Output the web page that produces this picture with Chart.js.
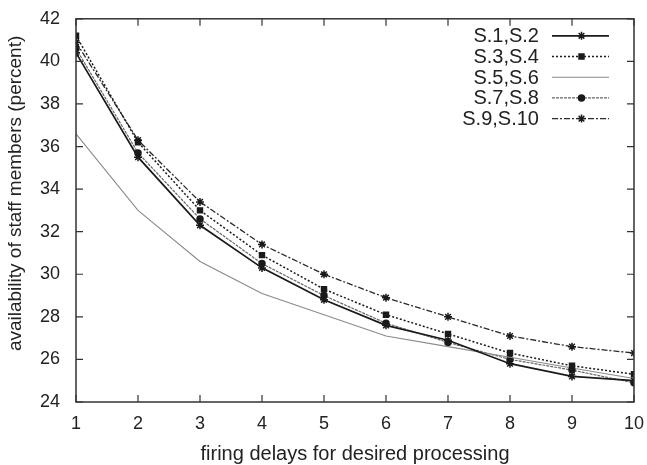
<!DOCTYPE html>
<html>
<head>
<meta charset="utf-8">
<script src="https://cdn.jsdelivr.net/npm/chart.js@4.4.1/dist/chart.umd.min.js"></script>
<style>
  html, body { margin: 0; padding: 0; background: #fff; }
  #wrap { width: 647px; height: 465px; }
</style>
</head>
<body>
<div id="wrap"><canvas id="myChart" width="647" height="465"></canvas></div>
<script>
const delays = [1, 2, 3, 4, 5, 6, 7, 8, 9, 10];
const seriesNames = ['S.1,S.2', 'S.3,S.4', 'S.5,S.6', 'S.7,S.8', 'S.9,S.10'];
const s12 = [40.4, 35.5, 32.3, 30.3, 28.8, 27.6, 26.9, 25.8, 25.2, 25.0];
const s34 = [41.2, 36.2, 33.0, 30.9, 29.3, 28.1, 27.2, 26.3, 25.7, 25.3];
const s56 = [36.6, 33.0, 30.6, 29.1, 28.1, 27.1, 26.6, 26.1, 25.6, 25.1];
const s78 = [40.6, 35.7, 32.6, 30.5, 29.0, 27.7, 26.8, 26.0, 25.5, 24.9];
const s910 = [40.9, 36.3, 33.4, 31.4, 30.0, 28.9, 28.0, 27.1, 26.6, 26.3];
const yTicks = [24, 26, 28, 30, 32, 34, 36, 38, 40, 42];
const yTitle = 'availability of staff members (percent)';

const toXY = (vals) => vals.map((y, i) => ({ x: delays[i], y }));

const FONT = '"Liberation Sans", Arial, Helvetica, sans-serif';

const styles = [
  { color: '#1a1a1a', width: 1.7, dash: [], point: 'star', radius: 4 },
  { color: '#1a1a1a', width: 1.5, dash: [2, 2], point: 'rect', radius: 3.5 },
  { color: '#8a8a8a', width: 1.1, dash: [], point: false, radius: 0 },
  { color: '#666', width: 1.2, dash: [3, 1], point: 'circle', radius: 3 },
  { color: '#2a2a2a', width: 1.3, dash: [6, 2, 2, 2], point: 'star', radius: 4 },
];

const allSeries = [s12, s34, s56, s78, s910];

const datasets = allSeries.map((vals, i) => ({
  label: seriesNames[i],
  data: toXY(vals),
  borderColor: styles[i].color,
  backgroundColor: '#1a1a1a',
  borderWidth: styles[i].width,
  borderDash: styles[i].dash,
  pointStyle: styles[i].point,
  pointRadius: styles[i].radius,
  pointBorderWidth: 1.5,
  pointBorderColor: '#1a1a1a',
  tension: 0,
  fill: false,
}));

// gnuplot style frame with inward ticks on all four sides
const framePlugin = {
  id: 'frame',
  afterDraw(chart) {
    const { ctx, chartArea: a, scales } = chart;
    ctx.save();
    ctx.strokeStyle = '#333';
    ctx.lineWidth = 1.5;
    ctx.setLineDash([]);
    ctx.strokeRect(a.left, a.top, a.right - a.left, a.bottom - a.top);
    ctx.lineWidth = 1.2;
    const t = 7;
    ctx.beginPath();
    delays.forEach((v) => {
      const px = scales.x.getPixelForValue(v);
      ctx.moveTo(px, a.bottom); ctx.lineTo(px, a.bottom - t);
      ctx.moveTo(px, a.top); ctx.lineTo(px, a.top + t);
    });
    yTicks.forEach((v) => {
      const py = scales.y.getPixelForValue(v);
      ctx.moveTo(a.left, py); ctx.lineTo(a.left + t, py);
      ctx.moveTo(a.right, py); ctx.lineTo(a.right - t, py);
    });
    ctx.stroke();

    // rotated y axis title, sitting a little above the plot's middle
    ctx.translate(16, (a.top + a.bottom) / 2 - 17);
    ctx.rotate(-Math.PI / 2);
    ctx.font = '19px ' + FONT;
    ctx.fillStyle = '#222';
    ctx.textAlign = 'center';
    ctx.textBaseline = 'middle';
    ctx.fillText(yTitle, 0, 0);
    ctx.restore();
  },
};

// key in the upper right corner: label, then line sample with marker
const keyPlugin = {
  id: 'key',
  afterDraw(chart) {
    const { ctx, chartArea: a } = chart;
    ctx.save();
    ctx.font = '20px ' + FONT;
    ctx.textAlign = 'right';
    ctx.textBaseline = 'middle';
    chart.data.datasets.forEach((ds, i) => {
      const y = a.top + 17 + i * 20.7;
      const textRight = a.right - 95;
      const x0 = a.right - 82, x1 = a.right - 25;
      ctx.fillStyle = '#222';
      ctx.fillText(ds.label, textRight, y + 1);
      ctx.strokeStyle = ds.borderColor;
      ctx.lineWidth = ds.borderWidth;
      ctx.setLineDash(ds.borderDash);
      ctx.beginPath();
      ctx.moveTo(x0, y); ctx.lineTo(x1, y);
      ctx.stroke();
      ctx.setLineDash([]);
      if (ds.pointStyle) {
        ctx.fillStyle = ds.backgroundColor;
        ctx.strokeStyle = ds.pointBorderColor;
        ctx.lineWidth = 1.5;
        Chart.helpers.drawPoint(ctx, {
          pointStyle: ds.pointStyle, radius: ds.pointRadius, rotation: 0, borderWidth: 1.5,
        }, (x0 + x1) / 2 + 1, y);
      }
    });
    ctx.restore();
  },
};

const chart = new Chart(document.getElementById('myChart'), {
  type: 'line',
  data: { datasets },
  options: {
    responsive: false,
    animation: false,
    layout: { padding: { top: 16, right: 12, left: 0, bottom: 0 } },
    plugins: { legend: { display: false }, tooltip: { enabled: false } },
    scales: {
      x: {
        type: 'linear',
        min: 1,
        max: 10,
        afterBuildTicks: (s) => { s.ticks = delays.map((v) => ({ value: v })); },
        afterFit: (s) => { s.height = 63; },
        grid: { display: false },
        border: { display: false },
        ticks: { color: '#222', font: { family: FONT, size: 18 }, padding: 3, maxRotation: 0 },
        title: {
          display: true,
          text: 'firing delays for desired processing',
          color: '#222',
          font: { family: FONT, size: 20, lineHeight: 1.1 },
          padding: { top: 0, bottom: 0 },
        },
      },
      y: {
        min: 24,
        max: 42,
        afterBuildTicks: (s) => { s.ticks = yTicks.map((v) => ({ value: v })); },
        afterFit: (s) => { s.width = 76; },
        grid: { display: false },
        border: { display: false },
        ticks: { color: '#222', font: { family: FONT, size: 18 }, padding: 8 },
      },
    },
  },
  plugins: [framePlugin, keyPlugin],
});
</script>
</body>
</html>
